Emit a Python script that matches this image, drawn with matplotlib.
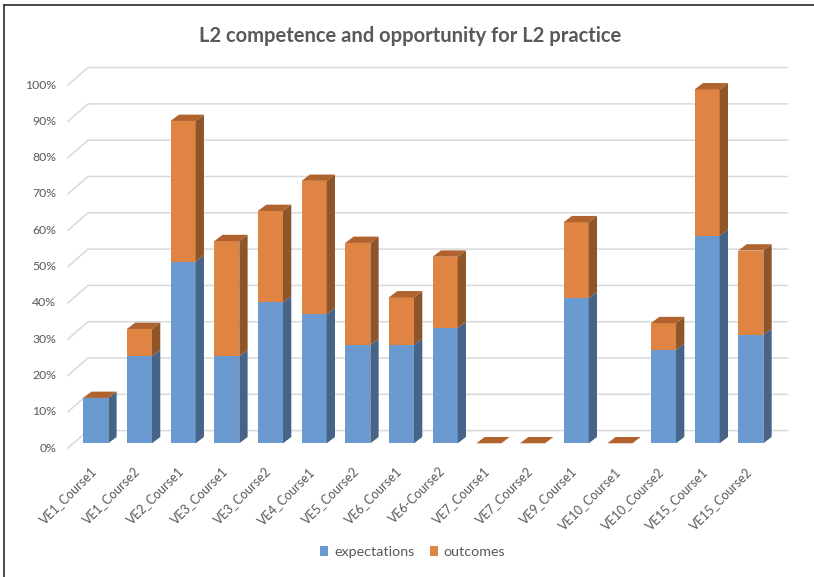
import matplotlib
matplotlib.use("Agg")
import matplotlib.pyplot as plt
from matplotlib.patches import Polygon, Patch
from matplotlib.lines import Line2D

# data (percent)
courses = ["VE1_Course1", "VE1_Course2", "VE2_Course1", "VE3_Course1", "VE3_Course2",
           "VE4_Course1", "VE5_Course2", "VE6_Course1", "VE6-Course2", "VE7_Course1",
           "VE7_Course2", "VE9_Course1", "VE10_Course1", "VE10_Course2", "VE15_Course1",
           "VE15_Course2"]
expectations = [12.5, 24, 50, 24, 38.8, 35.6, 27.1, 27.1, 31.8, 0, 0, 40, 0, 25.7, 57.2, 29.8]
outcomes = [0, 7.5, 38.8, 31.7, 25.2, 36.7, 28.1, 13.1, 19.6, 0, 0, 20.9, 0, 7.4, 40.3, 23.3]
yticks = list(range(0, 101, 10))

plt.rcParams['font.family'] = ['Lato', 'DejaVu Sans']
txt = '#595959'

blue = '#6a9ad0'
blue_side = '#456488'
orange = '#df8442'
orange_side = '#8e5528'
orange_top = '#b0622f'

W = 0.573        # bar width (category units)
DX = 0.19        # depth offset in x
DY = 1.74        # depth offset in y (percent)

fig = plt.figure(figsize=(8.14, 5.77), dpi=100)
ax = fig.add_axes([0, 0, 1, 1])
ax.set_xlim(-2.194, 16.446)
ax.set_ylim(-36.83, 122.12)
ax.axis('off')

# back wall gridlines with floor diagonal
x_front, x_back, x_end = -0.637, -0.179, 15.84
for v in yticks:
    ax.plot([x_front, x_back, x_end], [v - 1.3, v + 3.5, v + 3.5], color='#d9d9d9', lw=1.1, zorder=1)
    ax.text(-0.911, v - 1.3, f"{v}%", ha='right', va='center', fontsize=8.8, color=txt)


def box(x, y0, y1, front, side):
    l, r = x - W / 2, x + W / 2
    ax.add_patch(Polygon([(l, y0), (r, y0), (r, y1), (l, y1)], closed=True,
                         facecolor=front, edgecolor='none', zorder=3))
    ax.add_patch(Polygon([(r, y0), (r + DX, y0 + DY), (r + DX, y1 + DY), (r, y1)], closed=True,
                         facecolor=side, edgecolor='none', zorder=3))


for i, (e, o) in enumerate(zip(expectations, outcomes)):
    if e > 0:
        box(i, 0, e, blue, blue_side)
    if o > 0:
        box(i, e, e + o, orange, orange_side)
    t = e + o
    l, r = i - W / 2, i + W / 2
    ax.add_patch(Polygon([(l, t), (r, t), (r + DX, t + DY), (l + DX, t + DY)], closed=True,
                         facecolor=orange_top, edgecolor='none', zorder=4))
    ax.text(i - 0.13, -6.0, courses[i], rotation=45, rotation_mode='anchor',
            ha='right', va='top', fontsize=9, color=txt)

ax.text(7.2, 112.2, "L2 competence and opportunity for L2 practice", ha='center', va='center',
        fontsize=14.5, fontweight='bold', color=txt)

handles = [Patch(facecolor=blue, label='expectations'), Patch(facecolor=orange, label='outcomes')]
fig.legend(handles=handles, loc='center', bbox_to_anchor=(0.507, 1 - 552 / 577), ncol=2,
           frameon=False, fontsize=10.3, handlelength=0.55, handleheight=0.75,
           handletextpad=0.4, columnspacing=1.1, labelcolor=txt)

# outer frame (left and top edges)
fig.add_artist(Line2D([4 / 814, 4 / 814], [0, 1 - 5 / 577], color='#3a3a3a', lw=1.3))
fig.add_artist(Line2D([4 / 814, 1], [1 - 5 / 577, 1 - 5 / 577], color='#3a3a3a', lw=1.3))

fig.savefig('out.png', dpi=100)
